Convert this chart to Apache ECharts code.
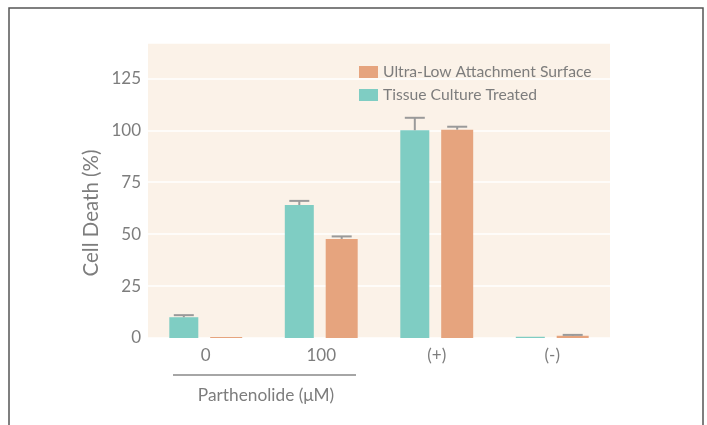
<!DOCTYPE html>
<html><head><meta charset="utf-8">
<script src="https://cdn.jsdelivr.net/npm/echarts@6/dist/echarts.min.js"></script>
<style>html,body{margin:0;padding:0;background:#fff}#c{width:707px;height:425px}</style>
</head><body><div id="c"></div>
<script>
const categories = ['0', '100', '(+)', '(-)'];
const tissueName = 'Tissue Culture Treated';
const ultraName = 'Ultra-Low Attachment Surface';
const tissueValues = [10, 64, 100, 0.6];
const tissueErr = [1, 2, 6, 0];
const ultraValues = [0.5, 47.7, 100.3, 1.1];
const ultraErr = [0, 1.2, 1.4, 0.4];
const yTicks = {min: 0, max: 142, interval: 25};

const FONT = 'Lato, "Noto Sans", sans-serif';
const TEXT = '#7d7d7d';
const TEAL = '#7fcdc3';
const ORANGE = '#e6a47e';
const ERR = '#9a9a9a';
const W1 = 29, W2 = 32, GAP = 0.41;
const groupW = W1 + W1 * GAP + W2;
const off1 = -groupW / 2 + W1 / 2;
const off2 = -groupW / 2 + W1 * (1 + GAP) + W2 / 2;

function errSeries(vals, errs, off) {
  return {
    type: 'custom',
    z: 5,
    silent: true,
    encode: {x: 0, y: 1},
    data: vals.map((v, i) => [i, v, errs[i]]),
    renderItem: function (params, api) {
      const i = api.value(0), v = api.value(1), e = api.value(2);
      if (!e) return null;
      const p0 = api.coord([i, v]);
      const p1 = api.coord([i, v + e]);
      const x = p0[0] + off;
      const style = {stroke: ERR, lineWidth: 2};
      return {
        type: 'group',
        children: [
          {type: 'line', shape: {x1: x, y1: p0[1], x2: x, y2: p1[1]}, style},
          {type: 'line', shape: {x1: x - 10, y1: p1[1], x2: x + 10, y2: p1[1]}, style}
        ]
      };
    }
  };
}

const chart = echarts.init(document.getElementById('c'), null, {renderer: 'canvas'});
chart.setOption({
  animation: false,
  backgroundColor: '#fff',
  textStyle: {fontFamily: FONT},
  grid: {left: 148, right: 97, top: 43, bottom: 87, show: true, backgroundColor: '#fbf2e8', borderWidth: 0},
  legend: {
    orient: 'vertical', left: 354, top: 59,
    itemWidth: 19, itemHeight: 12, itemGap: 7,
    icon: 'rect', selectedMode: false,
    data: [ultraName, tissueName],
    textStyle: {color: TEXT, fontSize: 15.7, fontFamily: FONT}
  },
  xAxis: {
    type: 'category', data: categories,
    axisLine: {show: false}, axisTick: {show: false},
    axisLabel: {color: TEXT, fontSize: 17, margin: 9, fontFamily: FONT},
    splitLine: {show: false}
  },
  yAxis: {
    type: 'value', min: yTicks.min, max: yTicks.max, interval: yTicks.interval,
    axisLine: {show: false}, axisTick: {show: false},
    axisLabel: {color: TEXT, fontSize: 17, margin: 7, showMaxLabel: false, fontFamily: FONT},
    splitLine: {lineStyle: {color: '#ffffff', width: 1.5}}
  },
  series: [
    {name: tissueName, type: 'bar', data: tissueValues, barWidth: W1, barGap: (GAP * 100) + '%', itemStyle: {color: TEAL}},
    {name: ultraName, type: 'bar', data: ultraValues, barWidth: W2, itemStyle: {color: ORANGE}},
    errSeries(tissueValues, tissueErr, off1),
    errSeries(ultraValues, ultraErr, off2)
  ],
  graphic: [
    {type: 'polyline', shape: {points: [[9, 440], [9, 8], [703, 8], [703, 440]]}, style: {stroke: '#555', lineWidth: 1.5, fill: null}},
    {type: 'text', x: 91, y: 213, rotation: Math.PI / 2, style: {text: 'Cell Death (%)', fill: TEXT, font: '20.5px ' + FONT, textAlign: 'center', textVerticalAlign: 'middle'}},
    {type: 'line', shape: {x1: 173, y1: 375, x2: 356, y2: 375}, style: {stroke: '#888', lineWidth: 1.5}},
    {type: 'text', x: 266, y: 395, style: {text: 'Parthenolide (μM)', fill: TEXT, font: '17.3px ' + FONT, textAlign: 'center', textVerticalAlign: 'middle'}}
  ]
});
</script></body></html>
